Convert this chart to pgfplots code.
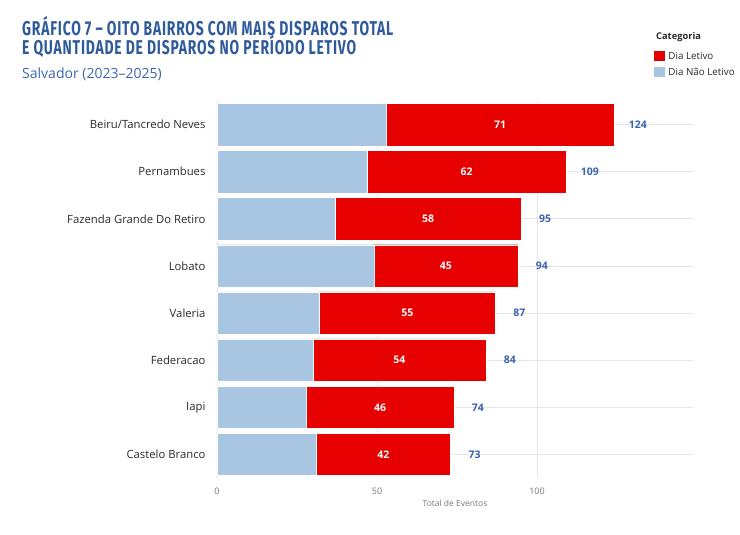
\documentclass[border=0pt]{standalone}
\usepackage{pgfplots}
\pgfplotsset{compat=1.18}
\usepackage{pgfplotstable}
\usepackage{fontspec}
\setmainfont{Open Sans}
\newfontfamily\titlefont[FakeStretch=0.695, LetterSpace=4]{Fira Sans}
\definecolor{redA}{HTML}{E60000}
\definecolor{blueA}{HTML}{A8C5E2}
\definecolor{titleblue}{HTML}{2F5B9C}
\definecolor{subblue}{HTML}{3B66AC}
\definecolor{lblblue}{HTML}{3B64A8}
\definecolor{gridc}{HTML}{E6E6E6}
\definecolor{ticktxt}{HTML}{7A7A7A}
\definecolor{cattxt}{HTML}{2A2A2A}

\pgfplotstableread{
idx blue red total
0 53 71 124
1 47 62 109
2 37 58 95
3 49 45 94
4 32 55 87
5 30 54 84
6 28 46 74
7 31 42 73
}\data

\pgfplotsset{/pgf/number format/assume math mode=true}

\begin{document}
\begin{tikzpicture}[x=1pt,y=1pt]
\fill[white] (0,0) rectangle (740,535);
\path[use as bounding box] (0,0) rectangle (740,535);
\begin{axis}[
  at={(217pt,57pt)}, anchor=south west,
  scale only axis, width=476pt, height=377pt,
  xbar stacked, bar width=0.9,
  xmin=0, xmax=148.75, ymin=-0.5, ymax=7.5, y dir=reverse,
  ytick={0,...,7},
  yticklabels={Beiru/Tancredo Neves,Pernambues,Fazenda Grande Do Retiro,Lobato,Valeria,Federacao,Iapi,Castelo Branco},
  xtick={0,50,100},
  axis line style={draw=none},
  major tick length=0pt,
  xmajorgrids, ymajorgrids,
  grid style={gridc, line width=0.8pt},
  xticklabel style={font=\fontsize{9}{10}\selectfont, text=ticktxt, yshift=-6pt},
  yticklabel style={font=\fontsize{11.3}{13}\selectfont, text=cattxt, xshift=-8pt},
  xlabel={Total de Eventos},
  xlabel style={font=\fontsize{8.5}{10}\selectfont, text=ticktxt, yshift=1pt},
]
\addplot[fill=blueA, draw=white, line width=0.4pt] table[x=blue, y=idx]{\data};
\addplot[fill=redA, draw=white, line width=0.4pt] table[x=red, y=idx]{\data};
\end{axis}
\begin{axis}[
  at={(217pt,57pt)}, anchor=south west,
  scale only axis, width=476pt, height=377pt,
  xmin=0, xmax=148.75, ymin=-0.5, ymax=7.5, y dir=reverse,
  hide axis,
  legend style={at={(rel axis cs:0.9185,1.1326)}, anchor=north west, draw=none, fill=none,
    inner sep=0pt, row sep=6pt, font=\fontsize{9.8}{11}\selectfont,
    nodes={inner sep=0pt, anchor=west, text=cattxt},
    /tikz/every odd column/.style={column sep=3pt}},
  legend cell align=left,
  legend image code/.code={\fill[#1] (0pt,-5pt) rectangle (11pt,5pt);},
]
\addplot[forget plot, only marks, mark=none, point meta=explicit, nodes near coords,
  nodes near coords style={text=white, font=\bfseries\fontsize{10.5}{12}\selectfont, anchor=center}]
  table[x expr=\thisrow{blue}+\thisrow{red}/2, y=idx, meta=red]{\data};
\addplot[forget plot, only marks, mark=none, point meta=explicit, nodes near coords,
  nodes near coords style={text=lblblue, font=\bfseries\fontsize{10.5}{12}\selectfont, anchor=center}]
  table[x expr=\thisrow{total}+7.5, y=idx, meta=total]{\data};
\addlegendimage{fill=redA, draw=none}
\addlegendentry{Dia Letivo}
\addlegendimage{fill=blueA, draw=none}
\addlegendentry{Dia Não Letivo}
\end{axis}
\node[anchor=base west, inner sep=0pt, text=cattxt, font=\bfseries\fontsize{9.3}{11}\selectfont] at (656,495) {Categoria};
\node[anchor=base west, inner sep=0pt, text=titleblue, font=\titlefont\bfseries\fontsize{20}{22}\selectfont] at (22,499) {GRÁFICO 7 – OITO BAIRROS COM MAIS DISPAROS TOTAL};
\node[anchor=base west, inner sep=0pt, text=titleblue, font=\titlefont\bfseries\fontsize{20}{22}\selectfont] at (22,480) {E QUANTIDADE DE DISPAROS NO PERÍODO LETIVO};
\node[anchor=base west, inner sep=0pt, text=subblue, font=\fontsize{14}{16}\selectfont] at (22,456) {Salvador (2023–2025)};
\end{tikzpicture}
\end{document}
